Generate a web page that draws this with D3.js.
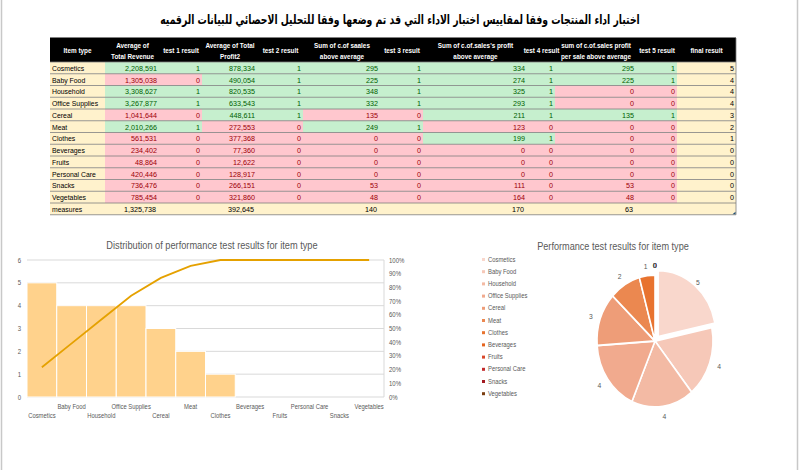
<!DOCTYPE html>
<html><head><meta charset="utf-8">
<script src="https://cdn.jsdelivr.net/npm/d3@7"></script>
<style>
html,body{margin:0;padding:0;background:#fff;}
svg{display:block;}
</style></head>
<body>
<svg id="c" width="800" height="470"></svg>
<script>
// ---------- DATA ----------
const titleText = "اختبار اداء المنتجات وفقا لمقاييس اختبار الاداء التي قد تم وضعها وفقا للتحليل الاحصائي للبيانات الرقميه";
const items = ["Cosmetics","Baby Food","Household","Office Supplies","Cereal","Meat","Clothes","Beverages","Fruits","Personal Care","Snacks","Vegetables"];
const revenue = [2208591,1305038,3308627,3267877,1041644,2010266,561531,234402,48864,420446,736476,785454];
const test1 = [1,0,1,1,0,1,0,0,0,0,0,0];
const profit = [878334,490054,820535,633543,448611,272553,377368,77360,12622,128917,266151,321860];
const test2 = [1,1,1,1,1,0,0,0,0,0,0,0];
const salesAbove = [295,225,348,332,135,249,0,0,0,0,53,48];
const test3 = [1,1,1,1,0,1,0,0,0,0,0,0];
const salesProfitAbove = [334,274,325,293,211,123,199,0,0,0,111,164];
const test4 = [1,1,1,1,1,0,1,0,0,0,0,0];
const perSaleAbove = [295,225,0,0,135,0,0,0,0,0,53,48];
const test5 = [1,1,0,0,1,0,0,0,0,0,0,0];
const finalResult = [5,4,4,4,3,2,1,0,0,0,0,0];
const measuresLabel = "measures";
const measures = [1325738,null,392645,null,140,null,170,null,63,null,null];
const headers = [["Item type"],["Average of","Total Revenue"],["test 1 result"],["Average of Total","Profit2"],["test 2 result"],["Sum of c.of saales","above average"],["test 3 result"],["Sum of c.of.sales's profit","above average"],["test 4 result"],["sum of c.of.sales profit","per sale above average"],["test 5 result"],["final result"]];
const leftTicks = [0,1,2,3,4,5,6];
const pctTicks = [0,0.1,0.2,0.3,0.4,0.5,0.6,0.7,0.8,0.9,1];
const paretoTitle = "Distribution of performance test results for item type";
const pieTitle = "Performance test results for item type";
const pieColors = ["#F9D7CC","#F6C8B8","#F3BAA4","#F1AA8E","#EE9D78","#EB8850","#E8732F","#E5641E","#D9472A","#C22A2C","#A31A22","#7A3E10"];

// ---------- SETUP ----------
const FONT = "'Liberation Sans',Arial,sans-serif";
const svg = d3.select("#c");
const fmt = d3.format(",");
function T(g, x, y, s, o){
  o = o||{};
  const sx = o.sx===undefined?0.86:o.sx;
  return g.append("text").attr("transform",`translate(${x},${y}) scale(${sx},1)`)
    .attr("text-anchor",o.anchor||"start").attr("font-size",o.size||8)
    .attr("font-weight",o.weight||"normal").attr("fill",o.fill||"#000")
    .attr("font-family",FONT).text(s);
}

// page frame
svg.append("line").attr("x1",1.5).attr("x2",1.5).attr("y1",0).attr("y2",470).attr("stroke","#c8c8c8").attr("stroke-width",1.5);
svg.append("line").attr("x1",797.5).attr("x2",797.5).attr("y1",0).attr("y2",470).attr("stroke","#c8c8c8").attr("stroke-width",1.5);

// title (condensed to the reference width)
{
  const t = svg.append("text").attr("text-anchor","middle")
    .attr("font-family","'DejaVu Sans',sans-serif").attr("font-weight","bold").attr("font-size",13)
    .attr("direction","rtl").attr("fill","#000").text(titleText);
  const w = t.node().getComputedTextLength();
  t.attr("transform",`translate(400,24) scale(${480/w},1)`);
}

// ---------- TABLE ----------
const colX = [50,105,160,202,258,303,381,423,528,555,637,677,736];
const headTop = 38, headBot = 62, rowH = 11.75;
const GREEN_BG="#C6EFCE", GREEN_TX="#006100", PINK_BG="#FFC7CE", PINK_TX="#9C0006", BEIGE="#FFF2CC";
const tbl = svg.append("g");

tbl.append("rect").attr("x",colX[0]).attr("y",headTop).attr("width",colX[12]-colX[0]).attr("height",headBot-headTop).attr("fill","#000");
tbl.append("line").attr("x1",colX[0]).attr("x2",colX[12]).attr("y1",headTop-0.5).attr("y2",headTop-0.5).attr("stroke","#808080");
headers.forEach((h,i)=>{
  const cx = (colX[i]+colX[i+1])/2;
  const o = {anchor:"middle",fill:"#fff",weight:"bold",size:7.6,sx:0.84};
  if(h.length===1){ T(tbl,cx,53,h[0],o); }
  else { T(tbl,cx,48,h[0],o); T(tbl,cx,59,h[1],o); }
});

const pairs = [[revenue,test1],[profit,test2],[salesAbove,test3],[salesProfitAbove,test4],[perSaleAbove,test5]];
items.forEach((name,r)=>{
  const y0 = headBot + r*rowH;
  const ty = y0 + rowH - 3;
  tbl.append("rect").attr("x",colX[0]).attr("y",y0).attr("width",colX[1]-colX[0]).attr("height",rowH).attr("fill",BEIGE);
  T(tbl,colX[0]+2,ty,name,{});
  pairs.forEach(([vals,tests],p)=>{
    const ok = tests[r]===1;
    const c0 = 1+p*2;
    const col = ok?GREEN_TX:PINK_TX;
    tbl.append("rect").attr("x",colX[c0]).attr("y",y0).attr("width",colX[c0+2]-colX[c0]).attr("height",rowH).attr("fill",ok?GREEN_BG:PINK_BG);
    T(tbl,colX[c0+1]-3,ty,fmt(vals[r]),{anchor:"end",fill:col,sx:0.9});
    T(tbl,colX[c0+2]-2,ty,tests[r],{anchor:"end",fill:col,sx:0.9});
  });
  tbl.append("rect").attr("x",colX[11]).attr("y",y0).attr("width",colX[12]-colX[11]).attr("height",rowH).attr("fill",BEIGE);
  T(tbl,colX[12]-2,ty,finalResult[r],{anchor:"end",sx:0.9});
});
// measures row
{
  const r = items.length, y0 = headBot + r*rowH, ty = y0+rowH-3;
  tbl.append("rect").attr("x",colX[0]).attr("y",y0).attr("width",colX[12]-colX[0]).attr("height",rowH).attr("fill",BEIGE);
  T(tbl,colX[0]+2,ty,measuresLabel,{});
  measures.forEach((v,i)=>{
    if(v===null) return;
    T(tbl,colX[i+2]-4,ty,fmt(v),{anchor:"end",sx:0.9});
  });
}
// row lines
d3.range(items.length+2).forEach(k=>{
  const y = headBot + k*rowH;
  tbl.append("line").attr("x1",colX[0]).attr("x2",colX[12]).attr("y1",y).attr("y2",y).attr("stroke","#7f7f7f").attr("stroke-width",0.8);
});
tbl.append("line").attr("x1",colX[12]).attr("x2",colX[12]).attr("y1",headTop).attr("y2",headBot+13*rowH).attr("stroke","#7f7f7f").attr("stroke-width",0.8);
tbl.append("path").attr("d",`M${colX[12]-0.5},${headBot+13*rowH-3} L${colX[12]-0.5},${headBot+13*rowH-0.5} L${colX[12]-3.5},${headBot+13*rowH-0.5}Z`).attr("fill","#1F4E79");

// ---------- PARETO ----------
const pg = svg.append("g");
const px0=27, px1=384, py0=397, py1=260;
const x = d3.scaleBand().domain(items).range([px0,px1]).padding(0);
const y = d3.scaleLinear().domain([0,6]).range([py0,py1]);
const yp = d3.scaleLinear().domain([0,1]).range([py0,py1]);
T(pg,212,249,paretoTitle,{anchor:"middle",size:10.5,fill:"#595959",sx:0.88});
leftTicks.forEach(t=>{
  pg.append("line").attr("x1",px0).attr("x2",px1).attr("y1",y(t)).attr("y2",y(t)).attr("stroke","#d9d9d9").attr("stroke-width",1);
  T(pg,21,y(t)+2.5,t,{anchor:"end",size:7,fill:"#595959"});
});
pg.append("line").attr("x1",px1).attr("x2",px1).attr("y1",py1).attr("y2",py0).attr("stroke","#d9d9d9");
pctTicks.forEach(t=>{
  T(pg,389,yp(t)+2.5,Math.round(t*100)+"%",{size:7,fill:"#595959"});
});
pg.selectAll("rect.bar").data(items).enter().append("rect").attr("class","bar")
  .attr("x",d=>x(d)).attr("width",x.bandwidth()).attr("y",(d,i)=>y(finalResult[i])).attr("height",(d,i)=>py0-y(finalResult[i]))
  .attr("fill","#FFD28C").attr("stroke","#fff").attr("stroke-width",1);
const total = d3.sum(finalResult);
const cum = d3.cumsum(finalResult).map(v=>v/total);
pg.append("path").datum(items).attr("fill","none").attr("stroke","#E5A100").attr("stroke-width",1.8)
  .attr("d",d3.line().x(d=>x(d)+x.bandwidth()/2).y((d,i)=>yp(cum[i])));
items.forEach((d,i)=>{
  T(pg,x(d)+x.bandwidth()/2,i%2===0?418:409,d,{anchor:"middle",size:7,fill:"#595959",sx:0.84});
});

// ---------- PIE ----------
const cg = svg.append("g");
T(cg,613,250,pieTitle,{anchor:"middle",size:10.5,fill:"#595959",sx:0.87});
items.forEach((d,i)=>{
  const ly = 261 + i*12.2;
  cg.append("rect").attr("x",482).attr("y",ly-3).attr("width",3).attr("height",3).attr("fill",pieColors[i]);
  T(cg,488,ly+0.5,d,{size:7,fill:"#595959",sx:0.84});
});
const cx=655, cy=341, rx=58, ry=66;
const pie = d3.pie().sort(null).value(d=>d)(finalResult);
const arc = d3.arc().innerRadius(0).outerRadius(rx);
const pieG = cg.append("g").attr("transform",`translate(${cx},${cy}) scale(1,${ry/rx})`);
pie.forEach((s,i)=>{
  if(s.data===0) return;
  const mid=(s.startAngle+s.endAngle)/2;
  const off = i===0?5:0;
  pieG.append("path").attr("d",arc(s)).attr("fill",pieColors[i]).attr("stroke","#fff").attr("stroke-width",1.6)
    .attr("transform",`translate(${off*Math.sin(mid)},${-off*Math.cos(mid)})`);
});
pie.forEach((s,i)=>{
  const mid=(s.startAngle+s.endAngle)/2;
  const lx = cx + (rx+10)*Math.sin(mid), ly = cy - (ry+10)*Math.cos(mid);
  T(cg,lx,ly+3,s.data,{anchor:"middle",size:7.5,fill:"#595959",sx:0.9});
});
</script>
</body></html>
